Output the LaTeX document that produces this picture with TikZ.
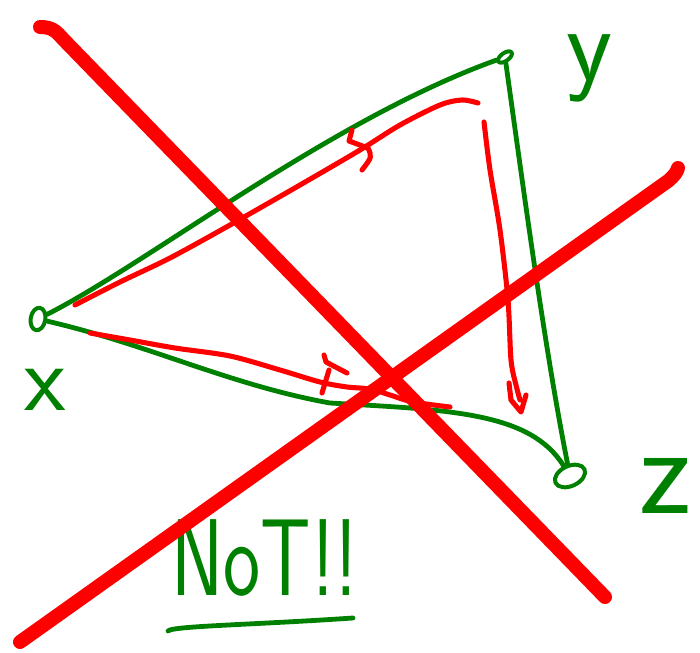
\documentclass[tikz,border=0pt]{standalone}
\usepackage{tikz}
\usetikzlibrary{shapes.geometric, positioning}

\begin{document}
\begin{tikzpicture}[x=0.75pt, y=-0.75pt, line cap=round, line join=round,
    pen/.style={draw=green!50!black, line width=3.6pt},
    redpen/.style={draw=red, line width=3.8pt},
    bigcross/.style={draw=red, line width=10.5pt},
    vertex/.style={ellipse, draw=green!50!black, line width=3pt, inner sep=0pt},
    hand/.style={text=green!50!black, inner sep=0pt}]
    \useasboundingbox (0,0) rectangle (700,653);

    % 1. Ba dinh
    \node[vertex, minimum width=11pt, minimum height=17pt, rotate=-10] (vx) at (38,319) {};
    \node[vertex, minimum width=12pt, minimum height=6pt, rotate=35] (vy) at (505,57) {};
    \node[vertex, minimum width=24pt, minimum height=15pt, rotate=25] (vz) at (570,476) {};
    \node[hand, font=\fontsize{72}{72}\selectfont\sffamily] (lx) at (45,390) {x};
    \node[hand, font=\fontsize{80}{80}\selectfont\sffamily] (ly) at (590,68) {y};
    \node[hand, font=\fontsize{96}{96}\selectfont\sffamily] (lz) at (666,486) {z};

    % 2. Cac canh
    \draw[pen] (vx) .. controls (150,262) and (330,120) .. (vy);
    \draw[pen] (vy) .. controls (525,200) and (545,350) .. (vz);
    \draw[pen] (vx) .. controls (150,345) and (230,385) .. (330,403)
        .. controls (450,410) and (530,412) .. (vz);

    % 3. Mui ten do
    \draw[redpen] plot[smooth] coordinates {(75,305) (120,282) (170,258) (230,225)
        (300,185) (360,150) (400,125) (440,105) (462,100) (478,103)};
    \draw[redpen] (352,130) -- (349,141) -- (368,148) .. controls (372,157) .. (362,170);
    \draw[redpen] plot[smooth] coordinates {(484,122) (490,170) (500,230) (508,300)
        (511,360) (516,385) (520,400)};
    \draw[redpen] (509,383) -- (511,400) -- (521,412) -- (526,395);
    \draw[redpen] plot[smooth] coordinates {(90,333) (130,340) (175,348) (230,356)
        (280,370) (320,382) (347,387) (370,389) (390,395) (413,402) (450,407)};
    \draw[redpen] (324,355) -- (326,362) -- (347,373);
    \draw[redpen] (329,370) -- (322,393);

    % 4. Chu NoT!!
    \node[hand, font=\fontsize{82}{82}\selectfont\sffamily, xscale=0.72] (nottext) at (265,558) {NoT!!};
    \draw[pen] (168,631) .. controls (172,626) and (250,625) .. (353,618);

    % 5. Dau gach cheo
    \draw[bigcross] (40,27) .. controls (52,27) and (56,31) .. (63,39) -- (605,597);
    \draw[bigcross] (20,642) -- (668,181) .. controls (674,176) and (677,172) .. (678,168);
\end{tikzpicture}
\end{document}
